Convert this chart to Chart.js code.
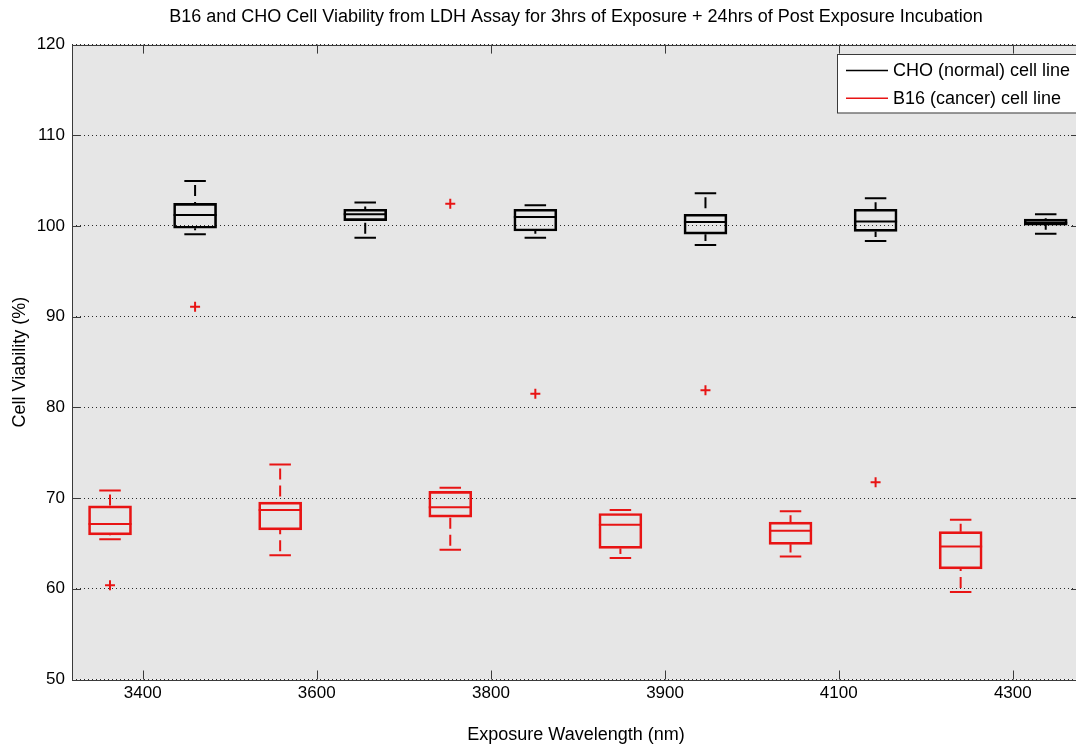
<!DOCTYPE html>
<html>
<head>
<meta charset="utf-8">
<title>B16 and CHO Cell Viability</title>
<script src="https://cdn.jsdelivr.net/npm/chart.js@4.4.1/dist/chart.umd.min.js"></script>
<style>
  html, body { margin: 0; padding: 0; background: #ffffff; overflow: hidden; width: 1076px; height: 749px; }
  #wrap { position: absolute; left: 0; top: 0; width: 1100px; height: 749px; }
</style>
</head>
<body>
<div id="wrap"><canvas id="chart" width="1100" height="749"></canvas></div>
<script>
const FONT = '"Liberation Sans", Arial, Helvetica, sans-serif';

// Slot of each box along the x axis: B16 boxes on odd slots, CHO boxes on even slots
const b16Slots = [1, 3, 5, 7, 9, 11];
const choSlots = [2, 4, 6, 8, 10, 12];

// Wavelength tick labels and where they sit along the x axis
const tickLabels = ['3400', '3600', '3800', '3900', '4100', '4300'];
const tickSlots = [1.384, 3.430, 5.479, 7.525, 9.567, 11.613];

// CHO (normal) cell line: whisker ends, quartiles, medians, outliers (% viability)
const choLow     = [99.1, 98.7, 98.7, 97.9, 98.35, 99.15];
const choQ1      = [99.75, 100.6, 99.45, 99.1, 99.4, 100.1];
const choMedian  = [101.2, 101.3, 101.0, 100.45, 100.5, 100.35];
const choQ3      = [102.5, 101.85, 101.85, 101.3, 101.85, 100.75];
const choHigh    = [104.95, 102.6, 102.3, 103.6, 103.05, 101.3];
const choOutlier = [91.1, null, 81.5, 81.9, 71.75, null];

// B16 (cancer) cell line: whisker ends, quartiles, medians, outliers (% viability)
const b16Low     = [65.45, 63.7, 64.3, 63.4, 63.55, 59.65];
const b16Q1      = [65.95, 66.5, 67.9, 64.45, 64.9, 62.2];
const b16Median  = [67.15, 68.7, 69.0, 67.05, 66.4, 64.65];
const b16Q3      = [69.15, 69.55, 70.75, 68.3, 67.35, 66.3];
const b16High    = [70.85, 73.7, 71.15, 68.7, 68.55, 67.6];
const b16Outlier = [60.4, null, 102.45, null, null, null];

const BLACK = '#000000';
const RED = '#e81414';
const FRAME = '#3a3a3a';

function boxData(slots, q1, q3) {
  return slots.map((s, i) => ({ x: s, y: [q1[i], q3[i]] }));
}
function outlierPoints() {
  const pts = [];
  choOutlier.forEach((v, i) => { if (v !== null) pts.push({ x: choSlots[i], y: v }); });
  b16Outlier.forEach((v, i) => { if (v !== null) pts.push({ x: b16Slots[i], y: v }); });
  return pts;
}

// Whiskers, caps and medians drawn on top of the quartile boxes,
// plus the axes frame, inward tick marks and the boxed legend.
const boxPlotExtras = {
  id: 'boxPlotExtras',
  beforeDraw(chart) {
    const { ctx, chartArea: a } = chart;
    ctx.save();
    ctx.fillStyle = '#e6e6e6';
    ctx.fillRect(a.left, a.top, a.right - a.left, a.bottom - a.top);
    ctx.restore();
  },
  afterDatasetsDraw(chart) {
    const { ctx, scales: { x, y } } = chart;
    chart.data.datasets.forEach((ds, di) => {
      if (!ds.stats) return;
      const meta = chart.getDatasetMeta(di);
      ds.data.forEach((d, i) => {
        const bar = meta.data[i];
        const cx = x.getPixelForValue(d.x);
        const half = bar.width / 2;
        const capHalf = half / 2;
        const yLow = y.getPixelForValue(ds.stats.low[i]);
        const yHigh = y.getPixelForValue(ds.stats.high[i]);
        const yQ1 = y.getPixelForValue(d.y[0]);
        const yQ3 = y.getPixelForValue(d.y[1]);
        const yMed = y.getPixelForValue(ds.stats.median[i]);
        ctx.save();
        ctx.strokeStyle = ds.borderColor;
        ctx.lineWidth = 2;
        ctx.lineCap = 'butt';
        // dashed whiskers
        ctx.setLineDash([11, 6]);
        ctx.lineDashOffset = 13;
        ctx.beginPath();
        ctx.moveTo(cx, yHigh); ctx.lineTo(cx, yQ3);
        ctx.moveTo(cx, yLow); ctx.lineTo(cx, yQ1);
        ctx.stroke();
        ctx.setLineDash([]);
        // caps and median
        ctx.beginPath();
        ctx.moveTo(cx - capHalf, yHigh); ctx.lineTo(cx + capHalf, yHigh);
        ctx.moveTo(cx - capHalf, yLow); ctx.lineTo(cx + capHalf, yLow);
        ctx.moveTo(cx - half, yMed); ctx.lineTo(cx + half, yMed);
        ctx.stroke();
        ctx.restore();
      });
    });
  },
  afterDraw(chart) {
    const { ctx, chartArea: a, scales: { x, y } } = chart;
    const tick = 9;
    ctx.save();
    ctx.strokeStyle = FRAME;
    ctx.lineWidth = 1;
    ctx.beginPath();
    y.ticks.forEach(t => {
      if (t.value <= y.min || t.value >= y.max) return;
      const py = Math.round(y.getPixelForValue(t.value)) + 0.5;
      ctx.moveTo(a.left, py); ctx.lineTo(a.left + tick, py);
      ctx.moveTo(a.right - tick, py); ctx.lineTo(a.right, py);
    });
    x.ticks.forEach(t => {
      const px = Math.round(x.getPixelForValue(t.value)) + 0.5;
      ctx.moveTo(px, a.bottom); ctx.lineTo(px, a.bottom - tick);
      ctx.moveTo(px, a.top); ctx.lineTo(px, a.top + tick);
    });
    ctx.stroke();
    ctx.strokeRect(Math.round(a.left) + 0.5, Math.round(a.top) + 0.5,
                   Math.round(a.right - a.left), Math.round(a.bottom - a.top));

    // legend box in the upper right corner of the axes
    const boxes = chart.data.datasets.filter(ds => ds.stats);
    const lx = a.right - 243, ly = a.top + 9.5, lw = 240, lh = 58.5;
    ctx.fillStyle = '#ffffff';
    ctx.fillRect(lx, ly, lw, lh);
    ctx.strokeStyle = FRAME;
    ctx.strokeRect(Math.round(lx) + 0.5, Math.round(ly) + 0.5, lw, lh);
    ctx.font = '18px ' + FONT;
    ctx.textBaseline = 'middle';
    ctx.textAlign = 'left';
    boxes.forEach((ds, k) => {
      const ry = ly + 16.5 + k * 27.6;
      ctx.strokeStyle = ds.borderColor;
      ctx.lineWidth = 1.5;
      ctx.beginPath();
      ctx.moveTo(lx + 9, ry); ctx.lineTo(lx + 51, ry);
      ctx.stroke();
      ctx.fillStyle = '#000000';
      ctx.fillText(ds.label, lx + 56, ry + 0.5);
    });
    ctx.restore();
  }
};

new Chart(document.getElementById('chart'), {
  type: 'scatter',
  data: {
    datasets: [
      {
        type: 'bar',
        label: 'CHO (normal) cell line',
        stack: 'box',
        data: boxData(choSlots, choQ1, choQ3),
        stats: { low: choLow, median: choMedian, high: choHigh },
        backgroundColor: 'rgba(0,0,0,0)',
        borderColor: BLACK,
        borderWidth: 2,
        borderSkipped: false,
        barThickness: 43
      },
      {
        type: 'bar',
        label: 'B16 (cancer) cell line',
        stack: 'box',
        data: boxData(b16Slots, b16Q1, b16Q3),
        stats: { low: b16Low, median: b16Median, high: b16High },
        backgroundColor: 'rgba(0,0,0,0)',
        borderColor: RED,
        borderWidth: 2,
        borderSkipped: false,
        barThickness: 43
      },
      {
        type: 'scatter',
        label: 'Outliers',
        data: outlierPoints(),
        pointStyle: 'cross',
        radius: 5,
        borderWidth: 2,
        borderColor: RED,
        backgroundColor: RED
      }
    ]
  },
  plugins: [boxPlotExtras],
  options: {
    responsive: false,
    animation: false,
    events: [],
    layout: { padding: { left: 0, top: 0, right: 20, bottom: 0 } },
    plugins: {
      legend: { display: false },
      tooltip: { enabled: false },
      title: {
        display: true,
        text: 'B16 and CHO Cell Viability from LDH Assay for 3hrs of Exposure + 24hrs of Post Exposure Incubation',
        fullSize: false,
        color: '#000000',
        font: { family: FONT, size: 18, weight: 'normal', lineHeight: 1.2 },
        padding: { top: 6, bottom: 17 }
      }
    },
    scales: {
      x: {
        type: 'linear',
        min: 0.553,
        max: 12.403,
        offset: false,
        grid: { display: false, drawTicks: false },
        border: { display: false },
        afterBuildTicks: (scale) => { scale.ticks = tickSlots.map(v => ({ value: v })); },
        afterFit: (scale) => { scale.height = 69.5; },
        ticks: {
          autoSkip: false,
          maxRotation: 0,
          padding: 4,
          color: '#000000',
          font: { family: FONT, size: 17 },
          callback: (value, index) => tickLabels[index]
        },
        title: {
          display: true,
          text: 'Exposure Wavelength (nm)',
          color: '#000000',
          font: { family: FONT, size: 18, lineHeight: 1.2 },
          padding: { top: 0, bottom: 3 }
        }
      },
      y: {
        type: 'linear',
        min: 50,
        max: 120,
        grid: { color: '#2a2a2a', lineWidth: 1, drawTicks: false },
        border: { display: false, dash: [1, 3] },
        afterFit: (scale) => { scale.width = 72; },
        ticks: {
          stepSize: 10,
          padding: 7,
          color: '#000000',
          font: { family: FONT, size: 17 }
        },
        title: {
          display: true,
          text: 'Cell Viability (%)',
          color: '#000000',
          font: { family: FONT, size: 18, lineHeight: 1.2 },
          padding: { top: 9, bottom: 0 }
        }
      }
    }
  }
});
</script>
</body>
</html>
